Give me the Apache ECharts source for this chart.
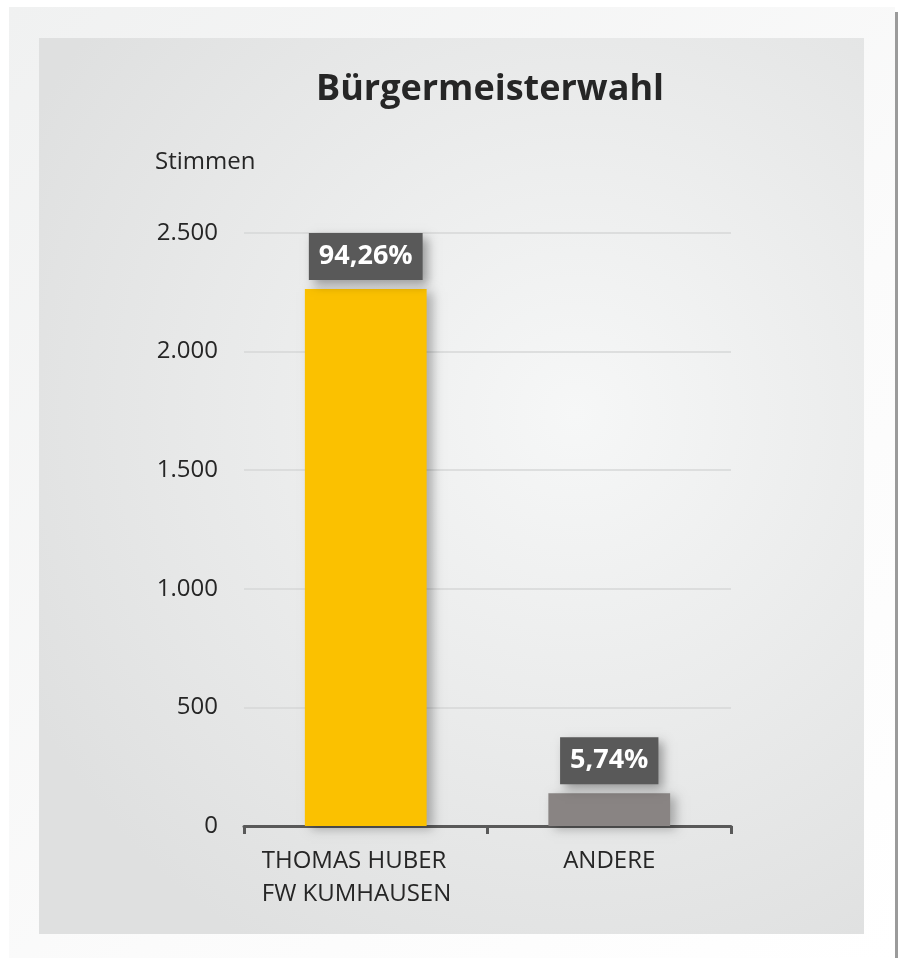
<!DOCTYPE html>
<html>
<head>
<meta charset="utf-8">
<script src="https://cdn.jsdelivr.net/npm/echarts@6/dist/echarts.min.js"></script>
<style>
html,body{margin:0;padding:0;background:#ffffff;}
#chart{width:899px;height:958px;}
</style>
</head>
<body>
<div id="chart"></div>
<script>
var titleText = 'Bürgermeisterwahl';
var axisName = 'Stimmen';
var categories = ['THOMAS HUBER\nFW KUMHAUSEN', 'ANDERE'];
var votes = [2264, 138];
var percentLabels = ['94,26%', '5,74%'];
var barColors = ['#FBC100', '#898483'];
var yTicks = [0, 500, 1000, 1500, 2000, 2500];

var FONT = '"Open Sans", "Noto Sans", sans-serif';

var chart = echarts.init(document.getElementById('chart'), null, {renderer: 'canvas'});

var data = votes.map(function (v, i) {
  return {
    value: v,
    itemStyle: {color: barColors[i]},
    label: {formatter: percentLabels[i]}
  };
});

chart.setOption({
  animation: false,
  backgroundColor: '#ffffff',
  textStyle: {fontFamily: FONT},
  graphic: [
    {
      type: 'rect', z: -10, silent: true,
      shape: {x: 9, y: 7, width: 886, height: 951},
      style: {
        fill: new echarts.graphic.LinearGradient(0, 0, 1, 1, [
          {offset: 0, color: '#f0f1f1'},
          {offset: 0.6, color: '#fbfbfb'},
          {offset: 1, color: '#ffffff'}
        ])
      }
    },
    {
      type: 'rect', z: -9, silent: true,
      shape: {x: 895, y: 12, width: 3, height: 946},
      style: {fill: '#9b9b9b'}
    },
    {
      type: 'rect', z: -8, silent: true,
      shape: {x: 39, y: 38, width: 825, height: 896},
      style: {
        fill: new echarts.graphic.RadialGradient(0.65, 0.42, 0.75, [
          {offset: 0, color: '#f6f7f7'},
          {offset: 1, color: '#dfe0e0'}
        ])
      }
    },
    {
      type: 'text', silent: true,
      left: 155, top: 150,
      style: {text: axisName, fontSize: 24, fill: '#262626', fontFamily: FONT}
    }
  ],
  title: {
    text: titleText,
    left: 485,
    textAlign: 'center',
    top: 67,
    textStyle: {fontSize: 36, fontWeight: 'bold', color: '#262626', fontFamily: FONT}
  },
  grid: {left: 244, right: 168, top: 233, bottom: 132, containLabel: false},
  xAxis: {
    type: 'category',
    data: categories,
    axisLine: {lineStyle: {color: '#595959', width: 3}},
    axisTick: {show: true, interval: 0, length: 8, lineStyle: {color: '#595959', width: 3}},
    axisLabel: {
      interval: 0,
      fontSize: 24, color: '#262626', margin: 19, lineHeight: 33, fontFamily: FONT,
      formatter: function (v) {
        if (v.indexOf('\n') < 0) { return v; }
        return v.split('\n').map(function (s) { return '{l|' + s + '}'; }).join('\n');
      },
      rich: {
        l: {fontSize: 24, color: '#262626', lineHeight: 33, fontFamily: FONT,
            align: 'left', width: 192, padding: [0, 16, 0, 0]}
      }
    }
  },
  yAxis: {
    type: 'value',
    min: 0, max: 2500, interval: 500,
    axisLine: {show: false},
    axisTick: {show: false},
    splitLine: {lineStyle: {color: '#d6d7d7', width: 1.5}},
    axisLabel: {
      fontSize: 24, color: '#262626', margin: 26, fontFamily: FONT,
      formatter: function (v) { return v.toString().replace(/\B(?=(\d{3})+(?!\d))/g, '.'); }
    }
  },
  series: [{
    type: 'bar',
    data: data,
    barWidth: '50%',
    itemStyle: {
      shadowColor: 'rgba(0,0,0,0.28)',
      shadowBlur: 10,
      shadowOffsetX: 6,
      shadowOffsetY: 3
    },
    label: {
      show: true,
      position: 'top',
      distance: 9,
      color: '#ffffff',
      fontWeight: 'bold',
      fontSize: 27,
      lineHeight: 27,
      fontFamily: FONT,
      backgroundColor: '#595959',
      padding: [10, 10, 10, 10],
      shadowColor: 'rgba(0,0,0,0.35)',
      shadowBlur: 10,
      shadowOffsetX: 5,
      shadowOffsetY: 5
    }
  }]
});
</script>
</body>
</html>
